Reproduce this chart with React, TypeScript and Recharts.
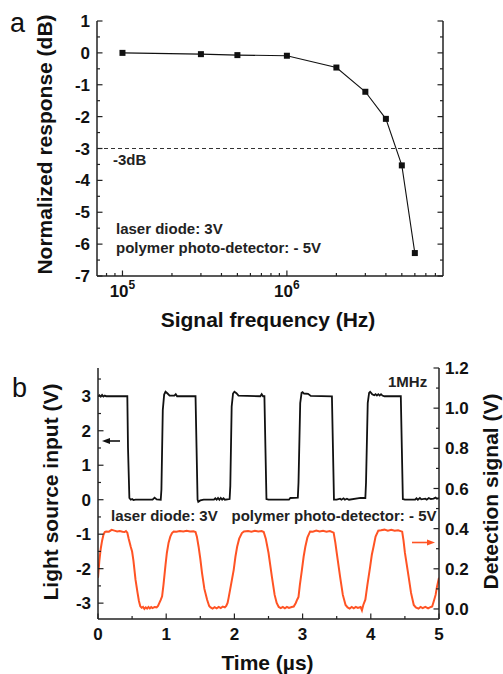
import React from 'react';
import { LineChart, Line, XAxis, YAxis, ReferenceLine } from 'recharts';

const FONT = '"Liberation Sans", Arial, Helvetica, sans-serif';
const AX = '#222';
const RED = '#ff5324';

// ---------- Panel a data ----------
const freqHz = [1e5, 3e5, 5e5, 1e6, 2e6, 3e6, 4e6, 5e6, 6e6];
const responseDb = [0, -0.04, -0.07, -0.09, -0.46, -1.22, -2.07, -3.53, -6.28];
const respTicks = [-7, -6.5, -6, -5.5, -5, -4.5, -4, -3.5, -3, -2.5, -2, -1.5, -1, -0.5, 0, 0.5, 1];
const freqTicks = [8e4, 9e4, 1e5, 2e5, 3e5, 4e5, 5e5, 6e5, 7e5, 8e5, 9e5, 1e6, 2e6, 3e6, 4e6, 5e6, 6e6, 7e6, 8e6];
const freqMajor = [1e5, 1e6];

// ---------- Panel b data ----------
const blackT = [
  0, 0.02, 0.04, 0.06, 0.08, 0.1, 0.12, 0.43, 0.44, 0.46, 0.48, 0.5, 0.52, 0.55, 0.8, 0.83, 0.86, 0.92,
  0.93, 0.95, 0.97, 0.99, 1.02, 1.05, 1.12, 1.14, 1.16, 1.43, 1.445, 1.46, 1.47, 1.5, 1.55, 1.7, 1.72, 1.74,
  1.76, 1.78, 1.8, 1.82, 1.84, 1.86, 1.93, 1.94, 1.96, 1.98, 2.0, 2.03, 2.06, 2.38, 2.4, 2.42, 2.44, 2.455,
  2.47, 2.5, 2.8, 2.82, 2.93, 2.94, 2.965, 2.985, 3.0, 3.02, 3.08, 3.12, 3.43, 3.445, 3.46, 3.5, 3.55, 3.57,
  3.6, 3.62, 3.65, 3.68, 3.85, 3.92, 3.93, 3.955, 3.975, 3.99, 4.02, 4.05, 4.07, 4.09, 4.11, 4.13, 4.15, 4.17,
  4.2, 4.44, 4.455, 4.47, 4.5, 4.65, 4.67, 4.69, 4.72, 4.74, 4.8, 4.82, 4.85, 4.88, 4.92, 4.95, 4.97, 5.0,
];
const blackV = [
  3.0, 3.03, 2.99, 3.04, 2.99, 3.02, 3.0, 3.0, 1.5, 0.05, 0.0, 0.02, -0.01, 0.0, 0.0, 0.06, 0.01, 0.0,
  0.3, 2.6, 3.05, 3.13, 3.08, 3.02, 3.02, 3.06, 3.0, 3.0, 1.5, 0.0, -0.06, -0.02, 0.0, 0.0, 0.04, 0.0,
  0.05, 0.0, 0.05, 0.0, 0.04, 0.0, 0.02, 0.4, 2.7, 3.08, 3.13, 3.09, 3.02, 3.0, 3.06, 3.0, 3.0, 1.5,
  0.02, 0.0, 0.0, 0.05, 0.06, 0.5, 2.8, 3.1, 3.12, 3.08, 3.07, 3.01, 3.0, 1.5, 0.0, 0.0, 0.03, 0.0,
  0.04, 0.0, 0.03, 0.0, 0.05, 0.05, 0.5, 2.8, 3.1, 3.13, 3.06, 3.03, 3.06, 3.02, 3.06, 3.02, 3.06, 3.02,
  3.0, 3.0, 1.5, 0.02, 0.0, 0.0, 0.04, 0.0, 0.05, 0.01, 0.03, 0.0, 0.05, 0.02, 0.03, 0.06, 0.03, 0.05,
];
const redT = [
  0, 0.02, 0.04, 0.06, 0.08, 0.1, 0.12, 0.16, 0.2, 0.24, 0.28, 0.32, 0.36, 0.39, 0.41, 0.43, 0.45, 0.48,
  0.5, 0.52, 0.55, 0.58, 0.6, 0.62, 0.64, 0.66, 0.68, 0.7, 0.72, 0.74, 0.76, 0.78, 0.8, 0.83, 0.86, 0.88,
  0.9, 0.92, 0.94, 0.96, 0.99, 1.01, 1.035, 1.06, 1.085, 1.11, 1.15, 1.2, 1.25, 1.3, 1.35, 1.4, 1.43, 1.45,
  1.475, 1.5, 1.525, 1.56, 1.6, 1.63, 1.65, 1.68, 1.71, 1.74, 1.77, 1.8, 1.83, 1.86, 1.88, 1.9, 1.915, 1.95,
  1.99, 2.015, 2.04, 2.07, 2.11, 2.14, 2.2, 2.25, 2.3, 2.35, 2.4, 2.43, 2.46, 2.5, 2.55, 2.59, 2.62, 2.65,
  2.68, 2.71, 2.74, 2.77, 2.8, 2.84, 2.87, 2.9, 2.92, 2.94, 2.96, 2.99, 3.015, 3.04, 3.07, 3.11, 3.15, 3.2,
  3.25, 3.3, 3.35, 3.4, 3.455, 3.48, 3.5, 3.55, 3.59, 3.63, 3.66, 3.69, 3.72, 3.75, 3.78, 3.81, 3.85, 3.87,
  3.89, 3.92, 3.95, 3.99, 4.015, 4.04, 4.07, 4.11, 4.15, 4.2, 4.25, 4.3, 4.35, 4.4, 4.46, 4.48, 4.5, 4.555,
  4.59, 4.63, 4.66, 4.7, 4.73, 4.76, 4.8, 4.84, 4.88, 4.9, 4.93, 4.95, 4.97, 5.0,
];
const redV = [
  0.155, 0.24, 0.3, 0.34, 0.37, 0.383, 0.386, 0.385, 0.394, 0.39, 0.386, 0.388, 0.385, 0.383, 0.388, 0.38, 0.35, 0.31,
  0.286, 0.24, 0.146, 0.08, 0.04, 0.013, 0.006, 0.01, 0.0, 0.008, 0.002, 0.01, 0.003, 0.009, 0.004, 0.01, 0.008, 0.015,
  0.03, 0.045, 0.063, 0.12, 0.22, 0.28, 0.33, 0.36, 0.378, 0.386, 0.385, 0.388, 0.386, 0.389, 0.386, 0.387, 0.383, 0.36,
  0.31, 0.25, 0.18, 0.1, 0.046, 0.015, 0.008, 0.002, 0.009, 0.003, 0.01, 0.004, 0.012, 0.008, 0.015, 0.03, 0.055, 0.12,
  0.195, 0.26, 0.31, 0.35, 0.378, 0.386, 0.388, 0.385, 0.389, 0.386, 0.388, 0.383, 0.35, 0.28, 0.16, 0.07, 0.03, 0.01,
  0.004, 0.01, 0.003, 0.01, 0.005, 0.01, 0.012, 0.03, 0.046, 0.06, 0.12, 0.195, 0.26, 0.31, 0.355, 0.386, 0.385, 0.39,
  0.386, 0.389, 0.385, 0.388, 0.38, 0.33, 0.28, 0.16, 0.07, 0.02, 0.008, 0.002, 0.01, 0.003, 0.01, 0.005, 0.01, -0.007,
  0.02, 0.046, 0.12, 0.21, 0.27, 0.31, 0.36, 0.39, 0.392, 0.395, 0.39, 0.394, 0.39, 0.392, 0.385, 0.34, 0.28, 0.16,
  0.08, 0.02, 0.008, 0.002, 0.01, 0.004, 0.01, 0.003, 0.01, 0.012, 0.046, 0.07, 0.11, 0.155,
];
const lightTicks = [-3, -2.5, -2, -1.5, -1, -0.5, 0, 0.5, 1, 1.5, 2, 2.5, 3, 3.5];
const detTicks = [0, 0.1, 0.2, 0.3, 0.4, 0.5, 0.6, 0.7, 0.8, 0.9, 1.0, 1.1, 1.2];
const timeTicks = [0, 0.5, 1, 1.5, 2, 2.5, 3, 3.5, 4, 4.5, 5];

const respData = freqHz.map((f, i) => ({ f, r: responseDb[i] }));
const blackData = blackT.map((t, i) => ({ t, v: blackV[i] }));
const redData = redT.map((t, i) => ({ t, v: redV[i] }));

const tickText = { fontFamily: FONT, fontWeight: 700, fontSize: 17, fill: '#111' } as const;

type Side = 'left' | 'right' | 'bottom' | 'top';
function makeTick(side: Side, isMajor: (v: number) => boolean, fmt?: (v: number) => React.ReactNode) {
  return (props: any) => {
    const { x, y, payload } = props;
    const v = Number(payload.value);
    const major = isMajor(v);
    const len = major ? 5.5 : 3;
    let x2 = x, y2 = y;
    if (side === 'left') x2 = x + len;
    if (side === 'right') x2 = x - len;
    if (side === 'bottom') y2 = y - len;
    if (side === 'top') y2 = y + len;
    let label: React.ReactNode = null;
    if (major && fmt) {
      if (side === 'left')
        label = <text x={x - 7} y={y} dy="0.36em" textAnchor="end" {...tickText}>{fmt(v)}</text>;
      else if (side === 'right')
        label = <text x={x + 6} y={y} dy="0.36em" textAnchor="start" {...tickText}>{fmt(v)}</text>;
      else if (side === 'bottom')
        label = <text x={x} y={y + 21} textAnchor="middle" {...tickText}>{fmt(v)}</text>;
    }
    return (
      <g>
        <line x1={x} y1={y} x2={x2} y2={y2} stroke={AX} strokeWidth={1.2} />
        {label}
      </g>
    );
  };
}

const isInt = (v: number) => Math.abs(v - Math.round(v)) < 1e-6;
const isFifth = (v: number) => Math.abs(v * 5 - Math.round(v * 5)) < 1e-6;
const isFreqMajor = (v: number) => freqMajor.some((m) => Math.abs(v - m) < 1);
const fmtInt = (v: number) => String(Math.round(v));
const fmtDec = (v: number) => v.toFixed(1);
const fmtPow = (v: number) => (
  <>
    <tspan>10</tspan>
    <tspan dy={-8} fontSize={12}>{Math.round(Math.log10(v))}</tspan>
  </>
);

const axisLine = { stroke: AX, strokeWidth: 1.5 };

function PanelA() {
  return (
    <LineChart width={503} height={330} data={respData} margin={{ top: 21, right: 0, bottom: 0, left: 0 }}>
      <XAxis
        dataKey="f" type="number" scale="log" domain={[70000, 8900000]} allowDataOverflow
        ticks={freqTicks} interval={0} tickSize={0} tickMargin={0} tickLine={false}
        axisLine={axisLine} height={54} tick={makeTick('bottom', isFreqMajor, fmtPow)}
      />
      <XAxis
        xAxisId="t" orientation="top" dataKey="f" type="number" scale="log" domain={[70000, 8900000]} allowDataOverflow
        ticks={freqTicks} interval={0} tickSize={0} tickMargin={0} tickLine={false}
        axisLine={axisLine} height={0} tick={makeTick('top', isFreqMajor)}
      />
      <YAxis
        type="number" domain={[-7, 1]} allowDataOverflow ticks={respTicks} interval={0}
        tickSize={0} tickMargin={0} tickLine={false} axisLine={axisLine} width={97}
        tick={makeTick('left', isInt, fmtInt)}
      />
      <YAxis
        yAxisId="r" orientation="right" type="number" domain={[-7, 1]} allowDataOverflow ticks={respTicks} interval={0}
        tickSize={0} tickMargin={0} tickLine={false} axisLine={axisLine} width={60}
        tick={makeTick('right', isInt)}
      />
      <ReferenceLine y={-3} stroke="#333" strokeWidth={1} strokeDasharray="4 3" />
      <Line
        dataKey="r" stroke="#111" strokeWidth={1.1} isAnimationActive={false}
        dot={(p: any) => <rect key={p.index} x={p.cx - 3} y={p.cy - 3} width={6} height={6} fill="#111" />}
      />
    </LineChart>
  );
}

function PanelB() {
  return (
    <LineChart width={503} height={344} margin={{ top: 38, right: 0, bottom: 0, left: 0 }}>
      <XAxis
        dataKey="t" type="number" domain={[0, 5]} allowDataOverflow ticks={timeTicks} interval={0}
        tickSize={0} tickMargin={0} tickLine={false} axisLine={axisLine} height={55}
        tick={makeTick('bottom', isInt, fmtInt)}
      />
      <XAxis
        xAxisId="t" orientation="top" dataKey="t" type="number" domain={[0, 5]} allowDataOverflow
        tick={false} tickLine={false} axisLine={axisLine} height={0}
      />
      <YAxis
        yAxisId="L" type="number" domain={[-3.46, 3.82]} allowDataOverflow ticks={lightTicks} interval={0}
        tickSize={0} tickMargin={0} tickLine={false} axisLine={axisLine} width={98}
        tick={makeTick('left', isInt, fmtInt)}
      />
      <YAxis
        yAxisId="R" orientation="right" type="number" domain={[-0.05, 1.2]} allowDataOverflow ticks={detTicks} interval={0}
        tickSize={0} tickMargin={0} tickLine={false} axisLine={axisLine} width={64}
        tick={makeTick('right', isFifth, fmtDec)}
      />
      <Line data={blackData} dataKey="v" yAxisId="L" stroke="#111" strokeWidth={1.8} dot={false} isAnimationActive={false} />
      <Line data={redData} dataKey="v" yAxisId="R" stroke={RED} strokeWidth={2} dot={false} isAnimationActive={false} />
    </LineChart>
  );
}

const titleStyle = { fontFamily: FONT, fontWeight: 700, fontSize: 21, fill: '#111' } as const;
const noteStyle = { fontFamily: FONT, fontWeight: 700, fontSize: 15, fill: '#222' } as const;

function Overlay() {
  return (
    <svg width={503} height={674} style={{ position: 'absolute', left: 0, top: 0, pointerEvents: 'none' }}>
      <text x={10} y={32} fontFamily={FONT} fontSize={27} fill="#111">a</text>
      <text x={52} y={144.5} textAnchor="middle" transform="rotate(-90 52 144.5)" {...titleStyle}>Normalized response (dB)</text>
      <text x={268} y={327} textAnchor="middle" {...titleStyle}>Signal frequency (Hz)</text>
      <text x={113} y={165} {...noteStyle}>-3dB</text>
      <text x={116} y={234} {...noteStyle}>laser diode: 3V</text>
      <text x={116} y={253} {...noteStyle}>polymer photo-detector: - 5V</text>

      <text x={12} y={397} fontFamily={FONT} fontSize={27} fill="#111">b</text>
      <text x={58} y={492} textAnchor="middle" transform="rotate(-90 58 492)" {...titleStyle}>Light source input (V)</text>
      <text x={498} y={491.5} textAnchor="middle" transform="rotate(-90 498 491.5)" {...titleStyle}>Detection signal (V)</text>
      <text x={267.5} y={670} textAnchor="middle" {...titleStyle}>Time (µs)</text>
      <text x={388} y={387} {...noteStyle}>1MHz</text>
      <text x={111} y={521} {...noteStyle}>laser diode: 3V</text>
      <text x={231.5} y={521} {...noteStyle}>polymer photo-detector: - 5V</text>

      <line x1={120} y1={441} x2={108} y2={441} stroke="#111" strokeWidth={1.6} />
      <polygon points="102,441 110,438 110,444" fill="#111" />
      <line x1={412} y1={542.5} x2={428} y2={542.5} stroke={RED} strokeWidth={1.6} />
      <polygon points="435,542.5 427,539.5 427,545.5" fill={RED} />
    </svg>
  );
}

export default function App() {
  return (
    <div style={{ position: 'absolute', left: 0, top: 0, width: 503, height: 674, background: '#fff' }}>
      <div style={{ position: 'absolute', left: 0, top: 0 }}>
        <PanelA />
      </div>
      <div style={{ position: 'absolute', left: 0, top: 330 }}>
        <PanelB />
      </div>
      <Overlay />
    </div>
  );
}
